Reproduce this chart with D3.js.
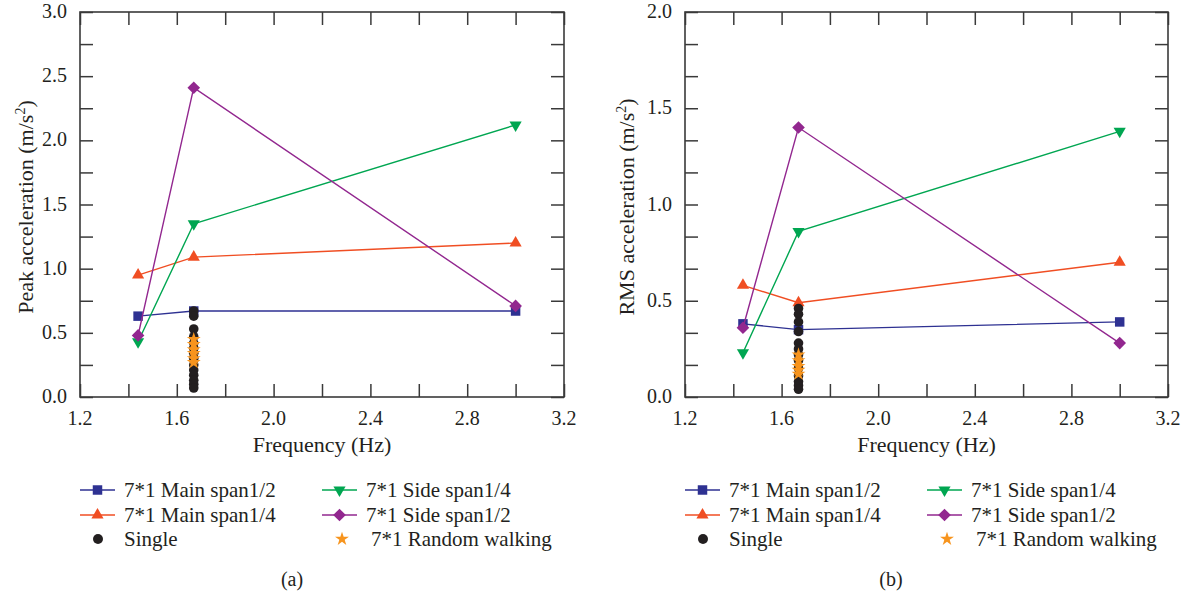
<!DOCTYPE html>
<html>
<head>
<meta charset="utf-8">
<script src="https://cdn.jsdelivr.net/npm/d3@7"></script>
<style>
  body { margin: 0; background: #fff; }
</style>
</head>
<body>
<svg width="1189" height="595" font-family="'Liberation Serif', 'Times New Roman', 'DejaVu Serif', serif"></svg>
<script>
// frequencies of the connected series
const freq = [1.44, 1.67, 3.0];
const singleFreq = 1.67;

// (a) peak acceleration
const peakMainHalf = [0.63, 0.67, 0.67];
const peakMainQuarter = [0.95, 1.09, 1.20];
const peakSideQuarter = [0.43, 1.35, 2.12];
const peakSideHalf = [0.48, 2.41, 0.71];
const peakSingle = [0.67, 0.63, 0.53, 0.47, 0.42, 0.38, 0.34, 0.30, 0.25, 0.21, 0.17, 0.13, 0.10, 0.07];
const peakRandom = [0.45, 0.41, 0.37, 0.34, 0.30, 0.27];

// (b) RMS acceleration
const rmsMainHalf = [0.38, 0.35, 0.39];
const rmsMainQuarter = [0.58, 0.49, 0.70];
const rmsSideQuarter = [0.23, 0.86, 1.38];
const rmsSideHalf = [0.36, 1.40, 0.28];
const rmsSingle = [0.46, 0.43, 0.39, 0.34, 0.28, 0.25, 0.22, 0.19, 0.15, 0.11, 0.08, 0.06, 0.04];
const rmsRandom = [0.22, 0.19, 0.16, 0.14, 0.12];

const seriesNames = ['7*1 Main span1/2', '7*1 Main span1/4', '7*1 Side span1/4', '7*1 Side span1/2'];
const singleName = 'Single';
const randomName = '7*1 Random walking';
const xTicks = [1.2, 1.4, 1.6, 1.8, 2.0, 2.2, 2.4, 2.6, 2.8, 3.0, 3.2];
const xLabels = [1.2, 1.6, 2.0, 2.4, 2.8, 3.2];

const colors = ['#2e3192', '#f04e23', '#00a651', '#92278f'];
const starColor = '#f7941d';
const dotColor = '#231f20';
const ink = '#231f20';

const svg = d3.select('svg');

// marker drawing
const markerPath = i => {
  if (i === 0) return d3.symbol(d3.symbolSquare, 90)();
  if (i === 1 || i === 2) return d3.symbol(d3.symbolTriangle, 64)();
  return d3.symbol(d3.symbolSquare, 80)();
};
const markerRot = i => (i === 2 ? 180 : i === 3 ? 45 : 0);

function panel(opts) {
  const g = svg.append('g');
  const x = d3.scaleLinear().domain([1.2, 3.2]).range([opts.left, opts.right]);
  const y = d3.scaleLinear().domain([0, opts.ymax]).range([397, 12]);
  const yTicks = d3.range(0, opts.ymax + 1e-9, opts.ymax / 12);
  const yLabels = d3.range(0, opts.ymax + 1e-9, 0.5);
  const tl = 13;

  // inner ticks on all four sides
  g.append('g').attr('transform', 'translate(0,397)')
    .call(d3.axisBottom(x).tickValues(xTicks).tickSizeInner(-tl).tickSizeOuter(0).tickFormat(''))
    .call(a => a.select('.domain').remove());
  g.append('g').attr('transform', 'translate(0,12)')
    .call(d3.axisTop(x).tickValues(xTicks).tickSizeInner(-tl).tickSizeOuter(0).tickFormat(''))
    .call(a => a.select('.domain').remove());
  g.append('g').attr('transform', `translate(${opts.left},0)`)
    .call(d3.axisLeft(y).tickValues(yTicks).tickSizeInner(-tl).tickSizeOuter(0).tickFormat(''))
    .call(a => a.select('.domain').remove());
  g.append('g').attr('transform', `translate(${opts.right},0)`)
    .call(d3.axisRight(y).tickValues(yTicks).tickSizeInner(-tl).tickSizeOuter(0).tickFormat(''))
    .call(a => a.select('.domain').remove());
  g.selectAll('.tick line').attr('stroke', '#3a3a3a').attr('stroke-width', 1.5);

  g.append('rect')
    .attr('x', opts.left).attr('y', 12)
    .attr('width', opts.right - opts.left).attr('height', 385)
    .attr('fill', 'none').attr('stroke', '#3a3a3a').attr('stroke-width', 1.6);

  // tick labels
  g.selectAll('.xl').data(xLabels).enter().append('text')
    .attr('x', d => x(d)).attr('y', 425)
    .attr('text-anchor', 'middle').attr('font-size', 20).attr('fill', ink)
    .text(d => d.toFixed(1));
  g.selectAll('.yl').data(yLabels).enter().append('text')
    .attr('x', opts.left - 13).attr('y', d => y(d) + 6)
    .attr('text-anchor', 'end').attr('font-size', 20).attr('fill', ink)
    .text(d => d.toFixed(1));

  // axis titles
  g.append('text')
    .attr('x', (opts.left + opts.right) / 2).attr('y', 452)
    .attr('text-anchor', 'middle').attr('font-size', 22).attr('fill', ink)
    .text('Frequency (Hz)');
  const yt = g.append('text')
    .attr('transform', `translate(${opts.titleX},207) rotate(-90)`)
    .attr('text-anchor', 'middle').attr('font-size', 22).attr('fill', ink);
  yt.append('tspan').text(opts.ytitle + ' (m/s');
  yt.append('tspan').attr('font-size', 14).attr('dy', -8).text('2');
  yt.append('tspan').attr('dy', 8).text(')');

  // connected series
  const line = d3.line().x(d => x(d[0])).y(d => y(d[1]));
  opts.series.forEach((vals, i) => {
    const pts = freq.map((f, k) => [f, vals[k]]);
    g.append('path').datum(pts).attr('d', line)
      .attr('fill', 'none').attr('stroke', colors[i]).attr('stroke-width', 1.4);
    g.selectAll(null).data(pts).enter().append('path')
      .attr('d', markerPath(i))
      .attr('transform', d => `translate(${x(d[0])},${y(d[1])}) rotate(${markerRot(i)})`)
      .attr('fill', colors[i]);
  });

  // single-person dots and random walking stars
  g.selectAll(null).data(opts.single).enter().append('circle')
    .attr('cx', x(singleFreq)).attr('cy', d => y(d)).attr('r', 4.8)
    .attr('fill', dotColor);
  g.selectAll(null).data(opts.random).enter().append('path')
    .attr('d', d3.symbol(d3.symbolStar, 60)())
    .attr('transform', d => `translate(${x(singleFreq)},${y(d)})`)
    .attr('fill', starColor);

  // legend
  const lx = opts.left, rows = [490, 515, 539];
  const cols = [lx, lx + 242];
  const entries = [
    { c: 0, r: 0, i: 0 }, { c: 0, r: 1, i: 1 },
    { c: 1, r: 0, i: 2 }, { c: 1, r: 1, i: 3 }
  ];
  entries.forEach(e => {
    const x0 = cols[e.c], yy = rows[e.r];
    g.append('line').attr('x1', x0).attr('x2', x0 + 35).attr('y1', yy).attr('y2', yy)
      .attr('stroke', colors[e.i]).attr('stroke-width', 1.4);
    g.append('path').attr('d', markerPath(e.i))
      .attr('transform', `translate(${x0 + 17.5},${yy}) rotate(${markerRot(e.i)})`)
      .attr('fill', colors[e.i]);
    g.append('text').attr('x', x0 + 44).attr('y', yy + 7).attr('font-size', 21).attr('fill', ink)
      .text(seriesNames[e.i]);
  });
  g.append('circle').attr('cx', cols[0] + 18).attr('cy', rows[2]).attr('r', 5).attr('fill', dotColor);
  g.append('text').attr('x', cols[0] + 44).attr('y', rows[2] + 7).attr('font-size', 21).attr('fill', ink).text(singleName);
  g.append('path').attr('d', d3.symbol(d3.symbolStar, 60)())
    .attr('transform', `translate(${cols[1] + 20},${rows[2]})`).attr('fill', starColor);
  g.append('text').attr('x', cols[1] + 49).attr('y', rows[2] + 7).attr('font-size', 21).attr('fill', ink).text(randomName);

  g.append('text').attr('x', opts.capX).attr('y', 586)
    .attr('text-anchor', 'middle').attr('font-size', 20).attr('fill', ink).text(opts.cap);
}

panel({
  left: 80, right: 564, ymax: 3.0, ytitle: 'Peak acceleration', titleX: 33,
  series: [peakMainHalf, peakMainQuarter, peakSideQuarter, peakSideHalf],
  single: peakSingle, random: peakRandom, cap: '(a)', capX: 292
});
panel({
  left: 685, right: 1168, ymax: 2.0, ytitle: 'RMS acceleration', titleX: 634,
  series: [rmsMainHalf, rmsMainQuarter, rmsSideQuarter, rmsSideHalf],
  single: rmsSingle, random: rmsRandom, cap: '(b)', capX: 891
});
</script>
</body>
</html>
